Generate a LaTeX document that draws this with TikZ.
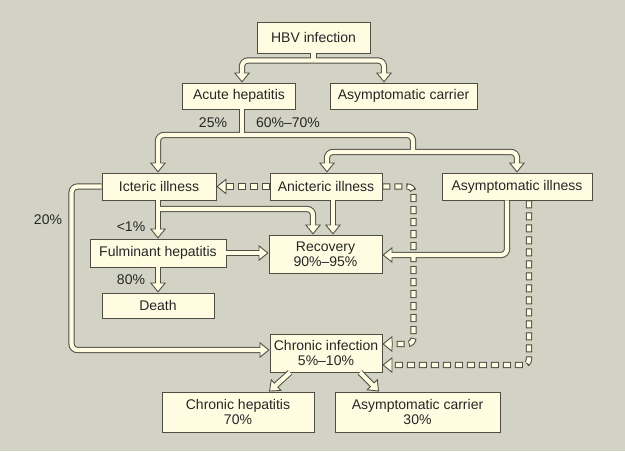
\documentclass[tikz,border=0pt]{standalone}
\usepackage{fontspec}
\setmainfont{Liberation Sans}
\usetikzlibrary{arrows.meta,calc}
\definecolor{bg}{RGB}{211,211,197}
\definecolor{cream}{RGB}{255,252,226}
\definecolor{outl}{RGB}{78,78,68}
\definecolor{txt}{RGB}{38,38,38}
\tikzset{
  mytip/.tip={Triangle[length=10pt,width=16pt,line width'=0.9pt,color=outl,fill=cream]},
  outerln/.style={draw=outl,line width=6.2pt,rounded corners=6pt},
  innerln/.style={draw=cream,line width=4.2pt,rounded corners=6pt},
  odash/.style={dash pattern=on 8pt off 4pt},
  idash/.style={dash pattern=on 0pt off 1pt on 6pt off 5pt},
  box/.style={draw=outl,line width=0.9pt,fill=cream,text=txt,inner sep=0pt,align=center,
    font=\fontsize{14}{15.5}\selectfont},
  lbl/.style={text=txt,inner sep=0pt,font=\fontsize{14}{15.5}\selectfont},
}
\newcommand\flowpaths{%
  % HBV split
  \draw[fl] (hbv.south) -- (j1);
  \draw[fa] (j1) -| ($(acute.north)+(3,0)$);
  \draw[fa] (j1) -| ($(carrier1.north)+(-19.5,0)$);
  % acute split
  \draw[fl] ($(acute.south)+(3,0)$) -- (j2);
  \draw[fa] (j2) -| ($(icteric.north)+(-1,0)$);
  \draw[fl] (j2) -| (j3);
  \draw[fa] (j3) -| ($(anicteric.north)+(1,0)$);
  \draw[fa] (j3) -| (asym.north);
  % icteric
  \draw[fa] ($(icteric.south)+(-1,0)$) -- (fulm.north);
  \draw[fa] (j4) -| ($(recov.north)+(-12.5,0)$);
  \draw[fa] ($(anicteric.south)+(7,0)$) -- ($(recov.north)+(7.5,0)$);
  \draw[fa] (fulm.east) -- (fulm.east -| recov.west);
  \draw[fa] (fulm.south) -- (death.north);
  \draw[fa] (icteric.west) -- ++(-30,0) |- ($(chronic.west)+(0,-3)$);
  % dashed
  \draw[da] (anicteric.west) -- (icteric.east);
  \draw[da] (anicteric.east) -- ++(31,0) |- ($(chronic.east)+(0,-9)$);
  \draw[da] ($(asym.south)+(12,0)$) |- ($(chronic.east)+(0,12)$);
  % asym to recovery
  \draw[fa] ($(asym.south)+(-10,0)$) |- ($(recov.east)+(0,1)$);
  % chronic split
  \draw[fa] ($(chronic.south)+(-36,0)$) -- ($(chep.north)+(31,0)$);
  \draw[fa] ($(chronic.south)+(34,0)$) -- ($(acar.north)+(-38.5,0)$);
}
\begin{document}
\begin{tikzpicture}[x=1pt,y=-1pt]
\fill[bg] (0,0) rectangle (625,451);
\useasboundingbox (0,0) rectangle (625,451);
\node[box,minimum width=113pt,minimum height=31pt] (hbv) at (313.5,37.5) {HBV infection};
\node[box,minimum width=113pt,minimum height=26pt] (acute) at (239,96) {Acute hepatitis};
\node[box,minimum width=147pt,minimum height=26pt] (carrier1) at (403.5,96) {Asymptomatic carrier};
\node[box,minimum width=114pt,minimum height=27pt] (icteric) at (159,186.5) {Icteric illness};
\node[box,minimum width=112pt,minimum height=27pt] (anicteric) at (326,186.5) {Anicteric illness};
\node[box,minimum width=150pt,minimum height=27pt] (asym) at (517,186.5) {Asymptomatic illness};
\node[box,minimum width=136pt,minimum height=28pt] (fulm) at (158,253) {Fulminant hepatitis};
\node[box,minimum width=113pt,minimum height=38pt] (recov) at (325.5,254) {Recovery\\90\%–95\%};
\node[box,minimum width=112pt,minimum height=25pt] (death) at (158,305.5) {Death};
\node[box,minimum width=112pt,minimum height=38pt] (chronic) at (326,353) {Chronic infection\\5\%–10\%};
\node[box,minimum width=152pt,minimum height=40pt] (chep) at (238,412) {Chronic hepatitis\\70\%};
\node[box,minimum width=165pt,minimum height=40pt] (acar) at (417.5,412) {Asymptomatic carrier\\30\%};
\node[lbl] (l25) at (213,123) {25\%};
\node[lbl] (l6070) at (288,123) {60\%–70\%};
\node[lbl] (l20) at (48,220) {20\%};
\node[lbl] (l1) at (131,227) {<1\%};
\node[lbl] (l80) at (131,280) {80\%};
\coordinate (j1) at (313.5,60.5);
\coordinate (j2) at (242,135);
\coordinate (j3) at (413,152);
\coordinate (j4) at (158,209);
\begin{scope}[fl/.style={outerln},fa/.style={outerln,-{mytip}},da/.style={outerln,odash,-{mytip}}]
\flowpaths
\end{scope}
\begin{scope}[fl/.style={innerln},fa/.style={innerln,shorten >=8.5pt},da/.style={innerln,idash,shorten >=8.5pt}]
\flowpaths
\end{scope}
\end{tikzpicture}
\end{document}
